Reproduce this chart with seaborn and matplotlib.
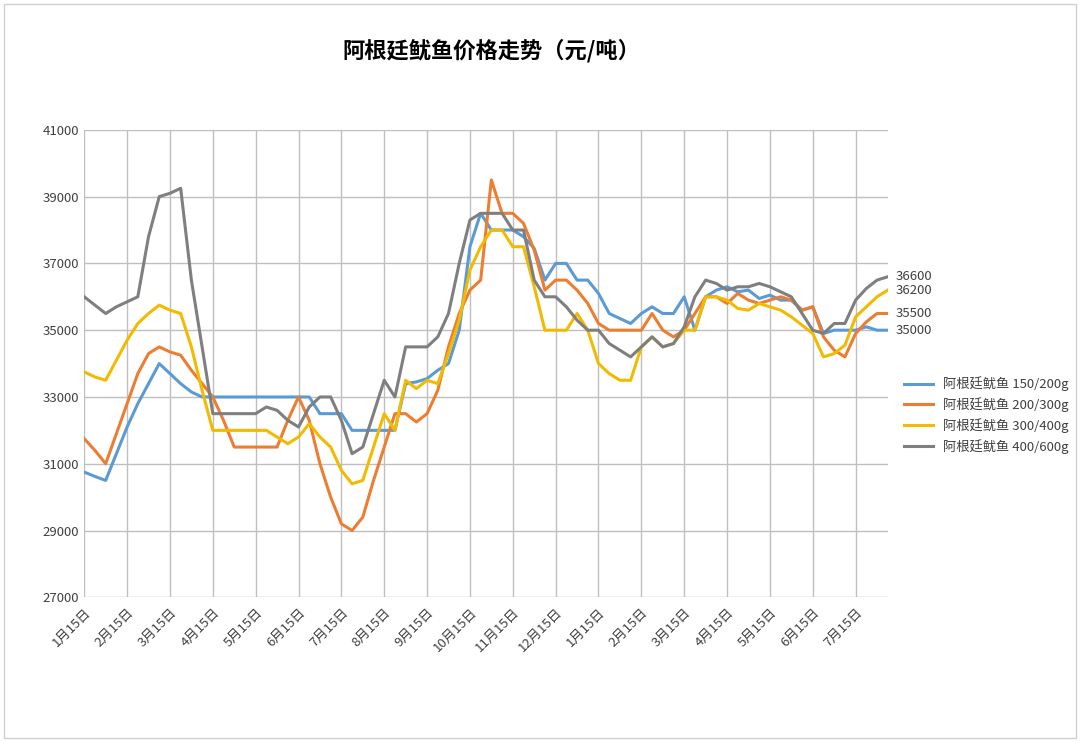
import matplotlib
matplotlib.use("Agg")
import matplotlib.pyplot as plt
from matplotlib import font_manager
import seaborn as sns
import pandas as pd
import numpy as np

cjk = None
for f in font_manager.fontManager.ttflist:
    if "CJK" in f.name and ("SC" in f.name or cjk is None):
        cjk = f.name
        if "SC" in f.name:
            break
if cjk is None:
    for path in font_manager.findSystemFonts():
        if "CJK" in path:
            font_manager.fontManager.addfont(path)
            cjk = font_manager.FontProperties(fname=path).get_name()
            break
plt.rcParams["font.family"] = "sans-serif"
plt.rcParams["font.sans-serif"] = ([cjk] if cjk else []) + ["Noto Sans CJK SC", "DejaVu Sans"]
plt.rcParams["axes.unicode_minus"] = False

series_names = ["阿根廷鱿鱼 150/200g", "阿根廷鱿鱼 200/300g", "阿根廷鱿鱼 300/400g", "阿根廷鱿鱼 400/600g"]
tick_labels = ["1月15日", "2月15日", "3月15日", "4月15日", "5月15日", "6月15日", "7月15日", "8月15日",
               "9月15日", "10月15日", "11月15日", "12月15日", "1月15日", "2月15日", "3月15日", "4月15日",
               "5月15日", "6月15日", "7月15日"]

s150 = [30750, 30620, 30500, 31300, 32100, 32800, 33400, 34000, 33700, 33400,
        33150, 33000, 33000, 33000, 33000, 33000, 33000, 33000, 33000, 33000,
        33000, 33000, 32500, 32500, 32500, 32000, 32000, 32000, 32000, 32000,
        33400, 33450, 33550, 33800, 34000, 35000, 37500, 38500, 38000, 38000,
        38000, 37800, 37450, 36500, 37000, 37000, 36500, 36500, 36100, 35500,
        35350, 35200, 35500, 35700, 35500, 35500, 36000, 35000, 36000, 36200,
        36300, 36150, 36200, 35950, 36050, 35900, 35900, 35600, 35700, 34900,
        35000, 35000, 35000, 35100, 35000, 35000]
s200 = [31750, 31400, 31000, 31900, 32800, 33700, 34300, 34500, 34350, 34250,
        33800, 33400, 33000, 32300, 31500, 31500, 31500, 31500, 31500, 32300,
        33000, 32300, 31000, 30000, 29200, 29000, 29400, 30500, 31500, 32500,
        32500, 32250, 32500, 33200, 34500, 35500, 36200, 36500, 39500, 38500,
        38500, 38200, 37400, 36200, 36500, 36500, 36200, 35800, 35200, 35000,
        35000, 35000, 35000, 35500, 35000, 34800, 35000, 35500, 36000, 36000,
        35800, 36100, 35900, 35800, 35900, 36000, 35900, 35600, 35700, 34800,
        34400, 34200, 34900, 35250, 35500, 35500]
s300 = [33750, 33600, 33500, 34100, 34700, 35200, 35500, 35750, 35600, 35500,
        34500, 33200, 32000, 32000, 32000, 32000, 32000, 32000, 31800, 31600,
        31800, 32200, 31800, 31500, 30800, 30400, 30500, 31500, 32500, 32000,
        33500, 33250, 33500, 33400, 34300, 35300, 36800, 37500, 38000, 38000,
        37500, 37500, 36300, 35000, 35000, 35000, 35500, 35000, 34000, 33700,
        33500, 33500, 34500, 34800, 34500, 34600, 35000, 35000, 36000, 36000,
        35900, 35650, 35600, 35800, 35700, 35600, 35400, 35150, 34900, 34200,
        34300, 34550, 35400, 35700, 36000, 36200]
s400 = [36000, 35750, 35500, 35700, 35850, 36000, 37800, 39000, 39100, 39250,
        36500, 34500, 32500, 32500, 32500, 32500, 32500, 32700, 32600, 32300,
        32100, 32700, 33000, 33000, 32300, 31300, 31500, 32500, 33500, 33000,
        34500, 34500, 34500, 34800, 35500, 37000, 38300, 38500, 38500, 38500,
        38000, 38000, 36500, 36000, 36000, 35700, 35300, 35000, 35000, 34600,
        34400, 34200, 34500, 34800, 34500, 34600, 35100, 36000, 36500, 36400,
        36200, 36300, 36300, 36400, 36300, 36150, 36000, 35500, 35000, 34900,
        35200, 35200, 35900, 36250, 36500, 36600]
end_labels = [35000, 35500, 36200, 36600]
colors = ["#5B9BD5", "#ED7D31", "#F2BA00", "#7F7F7F"]

all_vals = [s150, s200, s300, s400]
n = len(s150)
frames = []
for name, vals in zip(series_names, all_vals):
    frames.append(pd.DataFrame({"idx": np.arange(len(vals)), "price": vals, "series": name}))
df = pd.concat(frames)

fig = plt.figure(figsize=(10.8, 7.42), dpi=100)
ax = fig.add_axes([0.078, 0.195, 0.744, 0.63])
sns.lineplot(data=df, x="idx", y="price", hue="series", palette=colors, linewidth=2.2,
             ax=ax, legend=True)
ax.set_xlim(0, n - 1)
ax.set_ylim(27000, 41000)
ax.set_yticks(range(27000, 41001, 2000))
ax.set_xticks(range(0, n, 4))
ax.set_xticklabels(tick_labels, rotation=45, ha="right", rotation_mode="anchor", fontsize=9.5, color="#404040")
ax.tick_params(axis="y", labelsize=9.5, labelcolor="#404040", length=0)
ax.tick_params(axis="x", length=0, pad=6)
ax.grid(True, color="#BFBFBF", linewidth=1)
for sp in ax.spines.values():
    sp.set_visible(False)
ax.set_xlabel("")
ax.set_ylabel("")
for vals, lab in zip(all_vals, end_labels):
    ax.annotate(str(lab), xy=(n - 1, vals[-1]), xytext=(6, 0), textcoords="offset points",
                va="center", ha="left", fontsize=9.5, color="#404040", annotation_clip=False)
leg = ax.legend(loc="center left", bbox_to_anchor=(1.005, 0.39), frameon=False, fontsize=9.5,
                handlelength=2.2, labelspacing=0.45)
for t in leg.get_texts():
    t.set_color("#404040")
fig.text(0.455, 0.932, "阿根廷鱿鱼价格走势（元/吨）", ha="center", va="center", fontsize=16, fontweight="bold")
fig.patches.append(plt.Rectangle((0.004, 0.006), 0.992, 0.988, transform=fig.transFigure,
                                 fill=False, edgecolor="#D0D0D0", linewidth=1))
fig.savefig("out.png", dpi=100)
